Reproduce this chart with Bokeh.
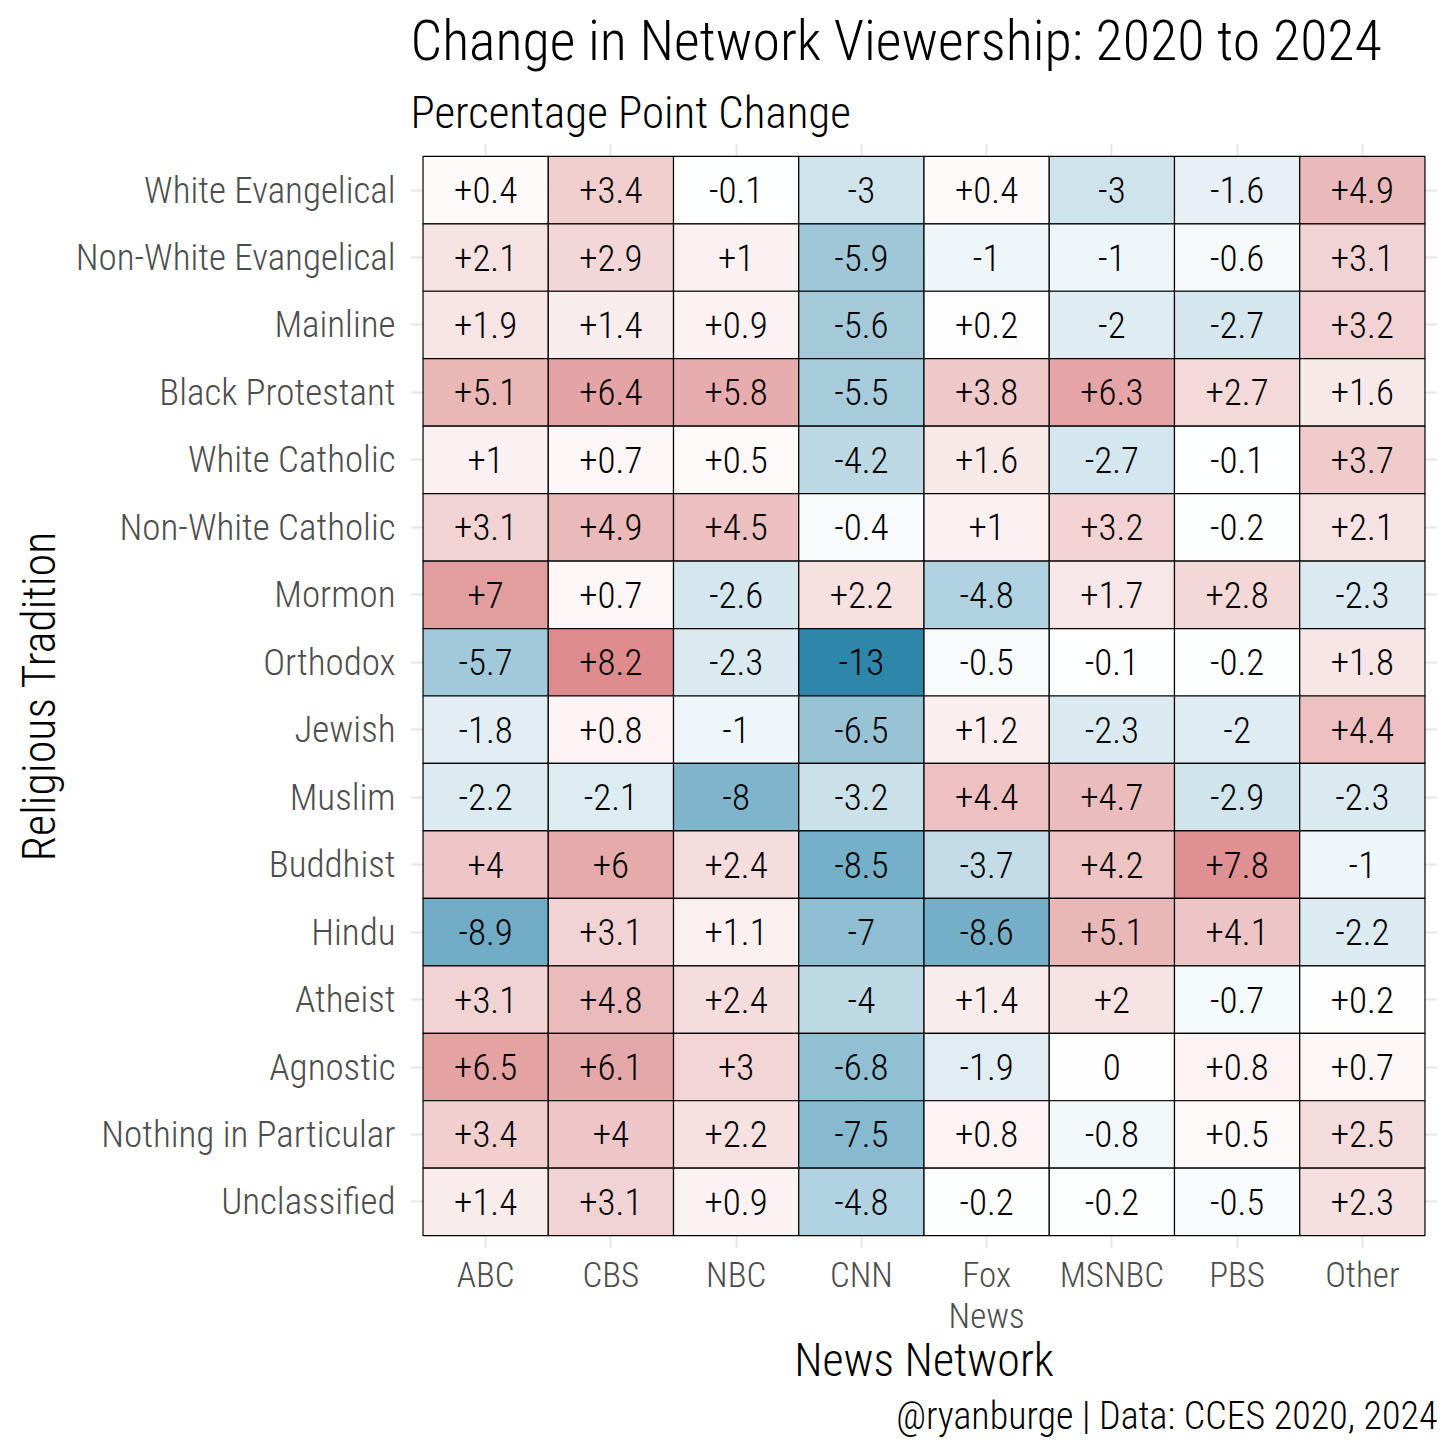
import numpy as np
from bokeh.plotting import figure
from bokeh.models import (ColumnDataSource, FactorRange, LinearColorMapper, Title)
from bokeh.transform import transform
from bokeh.core.properties import value
from bokeh.embed import file_html
from bokeh.resources import INLINE

traditions = ["White Evangelical", "Non-White Evangelical", "Mainline", "Black Protestant",
              "White Catholic", "Non-White Catholic", "Mormon", "Orthodox", "Jewish", "Muslim",
              "Buddhist", "Hindu", "Atheist", "Agnostic", "Nothing in Particular", "Unclassified"]
networks = ["ABC", "CBS", "NBC", "CNN", "Fox\nNews", "MSNBC", "PBS", "Other"]

white_evangelical = [0.4, 3.4, -0.1, -3, 0.4, -3, -1.6, 4.9]
nonwhite_evangelical = [2.1, 2.9, 1, -5.9, -1, -1, -0.6, 3.1]
mainline = [1.9, 1.4, 0.9, -5.6, 0.2, -2, -2.7, 3.2]
black_protestant = [5.1, 6.4, 5.8, -5.5, 3.8, 6.3, 2.7, 1.6]
white_catholic = [1, 0.7, 0.5, -4.2, 1.6, -2.7, -0.1, 3.7]
nonwhite_catholic = [3.1, 4.9, 4.5, -0.4, 1, 3.2, -0.2, 2.1]
mormon = [7, 0.7, -2.6, 2.2, -4.8, 1.7, 2.8, -2.3]
orthodox = [-5.7, 8.2, -2.3, -13, -0.5, -0.1, -0.2, 1.8]
jewish = [-1.8, 0.8, -1, -6.5, 1.2, -2.3, -2, 4.4]
muslim = [-2.2, -2.1, -8, -3.2, 4.4, 4.7, -2.9, -2.3]
buddhist = [4, 6, 2.4, -8.5, -3.7, 4.2, 7.8, -1]
hindu = [-8.9, 3.1, 1.1, -7, -8.6, 5.1, 4.1, -2.2]
atheist = [3.1, 4.8, 2.4, -4, 1.4, 2, -0.7, 0.2]
agnostic = [6.5, 6.1, 3, -6.8, -1.9, 0, 0.8, 0.7]
nothing_in_particular = [3.4, 4, 2.2, -7.5, 0.8, -0.8, 0.5, 2.5]
unclassified = [1.4, 3.1, 0.9, -4.8, -0.2, -0.2, -0.5, 2.3]

rows = [white_evangelical, nonwhite_evangelical, mainline, black_protestant, white_catholic,
        nonwhite_catholic, mormon, orthodox, jewish, muslim, buddhist, hindu, atheist,
        agnostic, nothing_in_particular, unclassified]

xs, ys, vals, labels = [], [], [], []
for trad, row in zip(traditions, rows):
    for net, v in zip(networks, row):
        xs.append(net)
        ys.append(trad)
        vals.append(v)
        labels.append(("+%g" % v) if v > 0 else ("%g" % v))

src = ColumnDataSource(dict(x=xs, y=ys, v=vals, label=labels))

low_c = np.array([46, 134, 171])
mid_c = np.array([255, 255, 255])
high_c = np.array([201, 72, 74])
pal = []
n = 256
for i in range(n):
    t = i / (n - 1) * 2 - 1
    if t < 0:
        c = mid_c + (low_c - mid_c) * (-t)
    else:
        c = mid_c + (high_c - mid_c) * t
    pal.append("#%02x%02x%02x" % tuple(int(round(k)) for k in c))
mapper = LinearColorMapper(palette=pal, low=-13, high=13)

FONT = "Roboto Condensed Light"

p = figure(width=1440, height=1440, output_backend="svg", toolbar_location=None,
           title=None,
           x_range=FactorRange(factors=networks, range_padding=0.1, range_padding_units="absolute"),
           y_range=FactorRange(factors=list(reversed(traditions)), range_padding=0.19,
                               range_padding_units="absolute"),
           min_border_left=410, min_border_right=3, min_border_top=22, min_border_bottom=0)
p.outline_line_color = None

p.rect(x="x", y="y", width=1, height=1, source=src,
       fill_color=transform("v", mapper), line_color="black", line_width=1.2)
p.text(x="x", y="y", text="label", source=src, text_align="center",
       text_baseline="middle", text_font=value(FONT), text_font_size="37px", text_color="black")

for ax in (p.xaxis[0], p.yaxis[0]):
    ax.axis_line_color = None
    ax.major_tick_line_color = None
    ax.minor_tick_line_color = None
    ax.major_tick_out = 0
    ax.major_tick_in = 0
    ax.major_label_text_font = FONT
    ax.major_label_text_color = "#4D4D4D"
    ax.major_label_text_line_height = 1.0
    ax.axis_label_text_font = FONT
    ax.axis_label_text_font_size = "46px"
    ax.axis_label_text_font_style = "normal"
    ax.axis_label_text_color = "black"

p.xaxis.major_label_text_font_size = "35px"
p.yaxis.major_label_text_font_size = "37px"
p.xaxis.axis_label = "News Network"
p.yaxis.axis_label = "Religious Tradition"
p.xaxis.major_label_standoff = 6
p.yaxis.major_label_standoff = 15
p.xaxis.axis_label_standoff = -7
p.yaxis.axis_label_standoff = 7

p.grid.grid_line_color = "#E6E6E6"
p.grid.grid_line_width = 2

sub = Title(text="Percentage Point Change", align="left", text_font=FONT,
            text_font_size="45px", text_font_style="normal", text_color="black")
p.add_layout(sub, "above")
main = Title(text="Change in Network Viewership: 2020 to 2024", align="left",
             text_font=FONT,
             text_font_size="56px", text_font_style="normal", text_color="black")
p.add_layout(main, "above")
cap = Title(text="@ryanburge | Data: CCES 2020, 2024", align="right", text_font=FONT,
            text_font_size="38px", text_font_style="normal", text_color="black", standoff=5)
p.add_layout(cap, "below")

open("out.html", "w").write(file_html(p, INLINE))
